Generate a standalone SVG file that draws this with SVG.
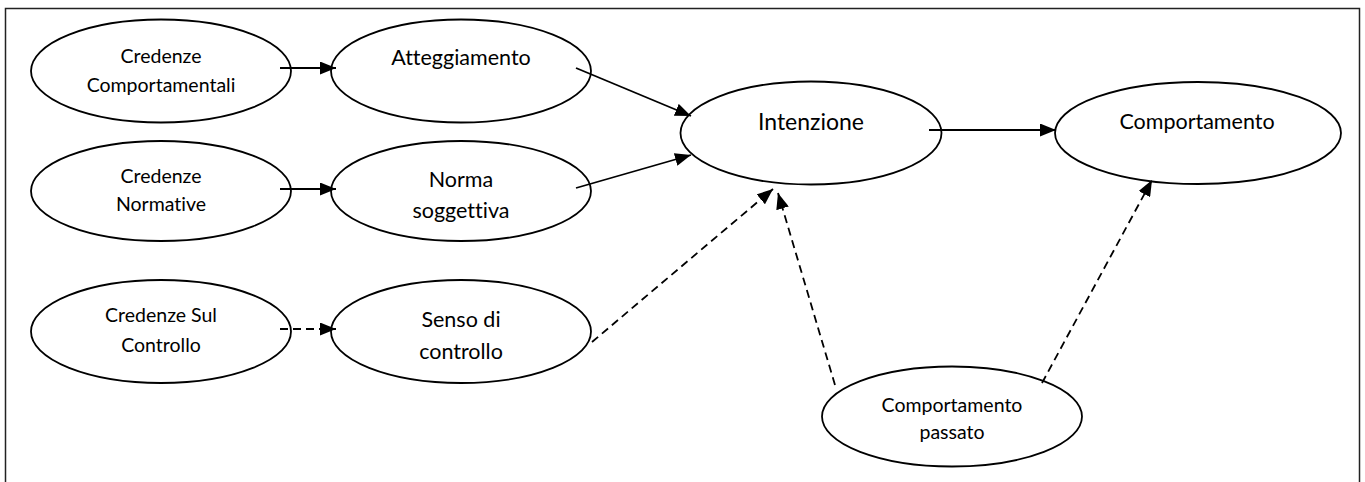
<svg xmlns="http://www.w3.org/2000/svg" width="1365" height="482" viewBox="0 0 1365 482">
<style>
.node ellipse{fill:#fff;stroke:#000;stroke-width:1.8}
.t{font-family:Lato,"Liberation Sans",sans-serif;fill:#000;text-anchor:middle;font-variant-ligatures:none}
.s{font-size:19.5px}
.m{font-size:21.5px}
.l{font-size:23px}
.c{stroke:#000;stroke-width:1.8;fill:none}
.d{stroke-dasharray:8 5}
</style>
<defs>
<marker id="ah" markerUnits="userSpaceOnUse" markerWidth="16" markerHeight="13" refX="16" refY="6.5" orient="auto" viewBox="0 0 16 13">
<path d="M0,0 L16,6.5 L0,13 z" fill="#000" stroke="none"/>
</marker>
</defs>
<rect x="5.5" y="8.5" width="1354" height="490" fill="#fff" stroke="#222" stroke-width="1.5"/>
<g id="n-credenze-comp" class="node">
<ellipse cx="161" cy="71" rx="130" ry="51.5"/>
<text class="t s" x="161" y="63">Credenze</text>
<text class="t s" x="161" y="92">Comportamentali</text>
</g>
<g id="n-atteggiamento" class="node">
<ellipse cx="461" cy="71" rx="130" ry="51.5"/>
<text class="t m" x="461" y="65">Atteggiamento</text>
</g>
<g id="n-credenze-norm" class="node">
<ellipse cx="161" cy="191" rx="130" ry="50"/>
<text class="t s" x="161" y="183">Credenze</text>
<text class="t s" x="161" y="211">Normative</text>
</g>
<g id="n-norma" class="node">
<ellipse cx="461" cy="191" rx="130" ry="50"/>
<text class="t m" x="461" y="187">Norma</text>
<text class="t m" x="461" y="218">soggettiva</text>
</g>
<g id="n-credenze-ctrl" class="node">
<ellipse cx="161" cy="331.5" rx="130" ry="51.5"/>
<text class="t s" x="161" y="322">Credenze Sul</text>
<text class="t s" x="161" y="352">Controllo</text>
</g>
<g id="n-senso" class="node">
<ellipse cx="461" cy="331.5" rx="130" ry="51.5"/>
<text class="t m" x="461" y="327">Senso di</text>
<text class="t m" x="461" y="359">controllo</text>
</g>
<g id="n-intenzione" class="node">
<ellipse cx="811" cy="133" rx="130.5" ry="51.5"/>
<text class="t l" x="811" y="130">Intenzione</text>
</g>
<g id="n-comportamento" class="node">
<ellipse cx="1198" cy="133" rx="143" ry="51"/>
<text class="t m" x="1197" y="129">Comportamento</text>
</g>
<g id="n-passato" class="node">
<ellipse cx="952" cy="416.5" rx="130" ry="50"/>
<text class="t s" x="952" y="412">Comportamento</text>
<text class="t s" x="952" y="439">passato</text>
</g>
<g id="connectors">
<line class="c" x1="280" y1="68" x2="336" y2="68" marker-end="url(#ah)"/>
<line class="c" x1="280" y1="189" x2="336" y2="189" marker-end="url(#ah)"/>
<line class="c d" x1="280" y1="329" x2="336" y2="329" marker-end="url(#ah)"/>
<line class="c" x1="576" y1="68" x2="691" y2="116" marker-end="url(#ah)"/>
<line class="c" x1="576" y1="188" x2="691" y2="155" marker-end="url(#ah)"/>
<line class="c" x1="929" y1="130" x2="1056" y2="130" marker-end="url(#ah)"/>
<line class="c d" x1="592" y1="342" x2="773" y2="189" marker-end="url(#ah)"/>
<line class="c d" x1="835" y1="385" x2="778" y2="193" marker-end="url(#ah)"/>
<line class="c d" x1="1042" y1="383" x2="1152" y2="180" marker-end="url(#ah)"/>
</g>
</svg>
